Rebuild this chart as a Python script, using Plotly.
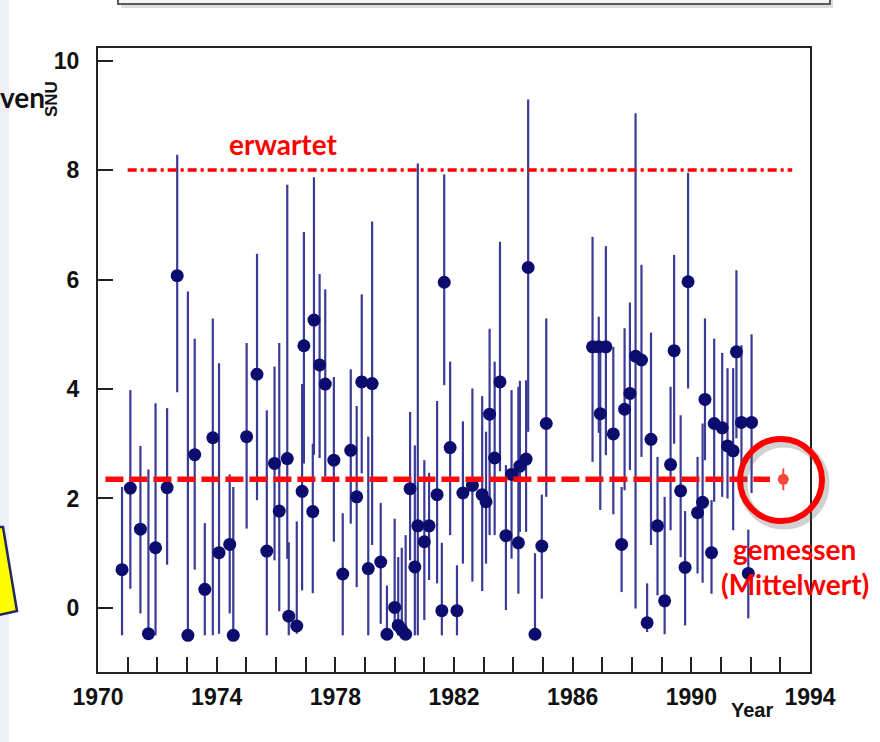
import plotly.graph_objects as go

# ---------------- data ----------------
years = [1970.81, 1971.09, 1971.43, 1971.70, 1971.94, 1972.33, 1972.67, 1973.03, 1973.26, 1973.60,
         1973.87, 1974.08, 1974.44, 1974.56, 1975.01, 1975.36, 1975.69, 1975.95, 1976.11, 1976.38,
         1976.43, 1976.70, 1976.88, 1976.94, 1977.24, 1977.28, 1977.47, 1977.66, 1977.95, 1978.25,
         1978.52, 1978.72, 1978.89, 1979.11, 1979.24, 1979.53, 1979.74, 1980.00, 1980.12, 1980.24,
         1980.37, 1980.52, 1980.68, 1980.78, 1981.00, 1981.16, 1981.43, 1981.59, 1981.67, 1981.87,
         1982.10, 1982.30, 1982.62, 1982.95, 1983.08, 1983.20, 1983.37, 1983.55, 1983.75, 1983.94,
         1984.17, 1984.22, 1984.43, 1984.50, 1984.73, 1984.96, 1985.11,
         1986.67, 1986.88, 1986.93, 1987.12, 1987.37, 1987.65, 1987.75, 1987.93, 1988.12, 1988.32,
         1988.51, 1988.64, 1988.86, 1989.10, 1989.30, 1989.42, 1989.64, 1989.79, 1989.89, 1990.21,
         1990.38, 1990.46, 1990.68, 1990.77, 1991.04, 1991.22, 1991.41, 1991.52, 1991.69, 1991.92,
         1992.03]
snu = [0.70, 2.19, 1.44, -0.47, 1.10, 2.20, 6.07, -0.50, 2.80, 0.34,
       3.11, 1.01, 1.16, -0.50, 3.13, 4.27, 1.04, 2.64, 1.77, 2.73,
       -0.15, -0.33, 2.13, 4.79, 1.76, 5.26, 4.44, 4.09, 2.70, 0.62,
       2.88, 2.03, 4.13, 0.72, 4.10, 0.84, -0.48, 0.01, -0.32, -0.40,
       -0.48, 2.18, 0.75, 1.50, 1.21, 1.50, 2.07, -0.05, 5.95, 2.93,
       -0.05, 2.10, 2.24, 2.07, 1.94, 3.54, 2.74, 4.13, 1.32, 2.44,
       1.19, 2.59, 2.72, 6.22, -0.48, 1.13, 3.37,
       4.77, 4.77, 3.55, 4.77, 3.18, 1.16, 3.63, 3.92, 4.60, 4.53,
       -0.27, 3.08, 1.50, 0.13, 2.62, 4.70, 2.14, 0.74, 5.96, 1.74,
       1.93, 3.81, 1.01, 3.37, 3.29, 2.96, 2.87, 4.68, 3.39, 0.63,
       3.39]
snu_upper = [2.21, 3.98, 2.96, 2.53, 3.74, 3.65, 8.28, 5.78, 4.92, 1.55,
             5.29, 4.47, 2.44, 2.21, 4.84, 6.47, 3.61, 4.41, 4.84, 7.73,
             1.20, 1.58, 4.09, 6.87, 3.00, 7.87, 6.10, 5.82, 4.22, 1.73,
             4.36, 3.69, 5.73, 3.13, 7.06, 1.92, 0.41, 1.63, 0.93, 1.10,
             1.33, 3.58, 2.97, 8.12, 2.70, 2.47, 3.78, 1.19, 7.92, 4.50,
             0.78, 3.41, 4.01, 3.87, 3.22, 5.10, 4.50, 6.69, 2.61, 3.98,
             4.04, 4.15, 4.16, 9.29, 1.00, 2.07, 5.29,
             6.78, 5.32, 4.80, 6.61, 4.77, 2.21, 5.11, 5.58, 9.04, 6.27,
             0.45, 5.03, 2.76, 2.03, 4.04, 6.45, 3.52, 1.77, 7.95, 2.76,
             3.37, 5.29, 1.97, 4.92, 4.66, 4.38, 4.38, 6.17, 4.80, 1.43,
             5.00]
snu_lower = [-0.50, 0.35, -0.10, -0.50, -0.50, 0.79, 3.94, -0.50, 0.70, -0.50,
             -0.50, -0.47, -0.10, -0.50, 1.45, 1.97, -0.50, 0.87, -0.06, 0.90,
             -0.50, -0.47, 0.32, 2.64, 0.27, 2.80, 2.74, 2.40, 1.21, -0.50,
             1.54, 0.38, 2.46, -0.50, 1.15, -0.29, -0.50, -0.41, -0.50, -0.50,
             -0.50, 0.87, -0.50, -0.50, -0.22, 0.51, 0.45, -0.50, 4.07, 1.33,
             -0.50, 0.81, 0.48, 0.31, 0.81, 1.33, 1.33, 2.50, -0.04, 0.90,
             0.26, 1.39, 1.39, 3.22, -0.50, 0.17, 2.03,
             2.67, 3.20, 1.79, 2.79, 1.71, 0.29, 2.15, 2.52, -0.01, 2.76,
             -0.44, 1.15, 0.23, -0.48, 1.42, 3.00, 0.93, -0.32, 4.01, 0.63,
             0.46, 2.70, 0.26, 1.94, 2.03, 2.00, 1.42, 3.10, 2.03, -0.19,
             2.10]

expected_value = 8.0
expected_span = [1971.0, 1993.4]
mean_value = 2.35
mean_span = [1970.25, 1992.65]
measured_year = 1993.1
measured_err = 0.2

x_ticks = [1970, 1974, 1978, 1982, 1986, 1990, 1994]
y_ticks = [0, 2, 4, 6, 8, 10]

# ---------------- layout geometry helpers ----------------
W, H = 880, 742
ML, MR, MT, MB = 98, 70, 48, 70
PW, PH = W - ML - MR, H - MT - MB


def px(xp):
    return (xp - ML) / PW


def py(yp):
    return (H - MB - yp) / PH


err_plus = [u - v for u, v in zip(snu_upper, snu)]
err_minus = [v - l for v, l in zip(snu, snu_lower)]

fig = go.Figure()

fig.add_trace(go.Scatter(
    x=years, y=snu, mode="markers",
    marker=dict(color="#0c0c6e", size=13, symbol="circle", line=dict(width=0)),
    error_y=dict(type="data", symmetric=False, array=err_plus, arrayminus=err_minus,
                 color="#3a3a98", thickness=2.2, width=0),
    showlegend=False, cliponaxis=False,
))

fig.add_trace(go.Scatter(
    x=expected_span, y=[expected_value, expected_value], mode="lines",
    line=dict(color="#ff0000", width=3.5, dash="9px,4px,3px,4px"),
    showlegend=False,
))

fig.add_trace(go.Scatter(
    x=mean_span, y=[mean_value, mean_value], mode="lines",
    line=dict(color="#ff0a0a", width=5.5, dash="18px,6px"),
    showlegend=False,
))

fig.add_trace(go.Scatter(
    x=[measured_year], y=[mean_value], mode="markers",
    marker=dict(color="#f44a38", size=11, symbol="circle"),
    error_y=dict(type="data", array=[measured_err], color="#f44a38", thickness=2, width=0),
    showlegend=False,
))

shapes = []
# light slide background strip at the left
shapes.append(dict(type="rect", xref="paper", yref="paper", x0=px(-5), x1=px(9), y0=py(H + 5), y1=py(-5),
                   fillcolor="#eef0f5", line=dict(width=0), layer="below"))
# top slide box (bottom edge visible)
shapes.append(dict(type="rect", xref="paper", yref="paper", x0=px(121), x1=px(833), y0=py(8), y1=py(-40),
                   fillcolor="rgba(120,120,120,0.25)", line=dict(width=0)))
shapes.append(dict(type="rect", xref="paper", yref="paper", x0=px(118), x1=px(830), y0=py(4), y1=py(-40),
                   fillcolor="#f4f4f4", line=dict(color="#5a5a5a", width=2)))
# yellow slide box at left edge
pts = [(-6, 527), (3, 527), (17, 611), (-6, 616)]
path = "M " + " L ".join(f"{px(a):.5f},{py(b):.5f}" for a, b in pts) + " Z"
shapes.append(dict(type="path", xref="paper", yref="paper", path=path,
                   fillcolor="#ffff00", line=dict(color="#1f2a5a", width=2.5)))
# red circle with a soft shadow
cx, cy, r = 781, 480, 41
shapes.append(dict(type="circle", xref="paper", yref="paper",
                   x0=px(cx - r + 3), x1=px(cx + r + 3), y0=py(cy + r + 4), y1=py(cy - r + 4),
                   line=dict(color="rgba(90,90,90,0.28)", width=9)))
shapes.append(dict(type="circle", xref="paper", yref="paper",
                   x0=px(cx - r), x1=px(cx + r), y0=py(cy + r), y1=py(cy - r),
                   line=dict(color="#ff0000", width=6)))

annotations = [
    dict(text="<b>erwartet</b>", x=px(283), y=py(144), xref="paper", yref="paper",
         showarrow=False, xanchor="center", yanchor="middle",
         font=dict(family="Lato", size=28, color="#ff0000")),
    dict(text="<b>gemessen</b>", x=px(794), y=py(549), xref="paper", yref="paper",
         showarrow=False, xanchor="center", yanchor="middle",
         font=dict(family="Lato", size=28, color="#ff0000")),
    dict(text="<b>(Mittelwert)</b>", x=px(795), y=py(584), xref="paper", yref="paper",
         showarrow=False, xanchor="center", yanchor="middle",
         font=dict(family="Lato", size=28, color="#ff0000")),
    dict(text="<b>Year</b>", x=px(752), y=py(710), xref="paper", yref="paper",
         showarrow=False, xanchor="center", yanchor="middle",
         font=dict(family="Liberation Sans", size=20, color="#111111")),
    dict(text="<b>ven</b>", x=px(-2), y=py(97), xref="paper", yref="paper",
         showarrow=False, xanchor="left", yanchor="middle",
         font=dict(family="Lato", size=28, color="#111111")),
    dict(text="<b>SNU</b>", x=px(51), y=py(99), xref="paper", yref="paper",
         showarrow=False, xanchor="center", yanchor="middle", textangle=-90,
         font=dict(family="Liberation Sans", size=17, color="#111111")),
]

fig.update_layout(
    width=W, height=H,
    margin=dict(l=ML, r=MR, t=MT, b=MB),
    paper_bgcolor="white", plot_bgcolor="white",
    shapes=shapes, annotations=annotations,
    showlegend=False,
)

fig.update_xaxes(
    range=[1970, 1994], tickvals=x_ticks, ticktext=[str(v) for v in x_ticks],
    ticks="inside", ticklen=15, tickwidth=2, tickcolor="#222222",
    minor=dict(dtick=1, tick0=1970, ticks="inside", ticklen=15, tickwidth=2, tickcolor="#222222"),
    showline=True, linecolor="#222222", linewidth=2, mirror=True,
    showgrid=False, zeroline=False,
    tickfont=dict(family="Liberation Sans", size=23, color="#111111", weight="bold"),
    ticklabelstandoff=3,
)
fig.update_yaxes(
    range=[-1.17, 10.23], tickvals=y_ticks, ticktext=[str(v) for v in y_ticks],
    ticks="inside", ticklen=15, tickwidth=2, tickcolor="#222222",
    showline=True, linecolor="#222222", linewidth=2, mirror=True,
    showgrid=False, zeroline=False,
    tickfont=dict(family="Liberation Sans", size=23, color="#111111", weight="bold"),
    ticklabelstandoff=12,
)

fig.write_html("out.html", config={"displayModeBar": False},
               post_script="document.body.style.margin='0';")
